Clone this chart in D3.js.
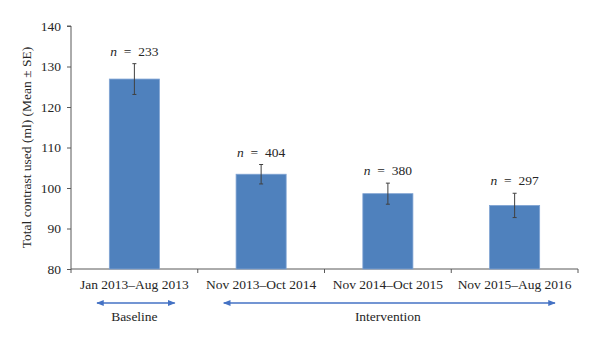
<!DOCTYPE html>
<html lang="en">
<head>
  <meta charset="UTF-8">
  <title>Total contrast used by period</title>
  <script src="https://d3js.org/d3.v7.min.js"></script>
  <style>
    body { margin: 0; background: #fff; }
    svg, svg text { font-family: "Liberation Serif", "Times New Roman", serif; fill: #262626; }
    .axis path, .axis line { stroke: #595959; }
    .axis text { font-size: 13.5px; fill: #262626; }
  </style>
</head>
<body>
  <svg width="600" height="343" font-family="Liberation Serif, serif"></svg>

  <script>
    const periods = ["Jan 2013\u2013Aug 2013", "Nov 2013\u2013Oct 2014", "Nov 2014\u2013Oct 2015", "Nov 2015\u2013Aug 2016"];
    const means = [126.9, 103.4, 98.6, 95.7];
    const stdErrors = [3.8, 2.4, 2.6, 3.0];
    const counts = [233, 404, 380, 297];
    const yTicks = [80, 90, 100, 110, 120, 130, 140];
    // phase brackets under the axis, by index of the first and last period
    const phases = [
      { name: "Baseline", from: 0, to: 0 },
      { name: "Intervention", from: 1, to: 3 }
    ];

    const FONT = "Liberation Serif, serif";
    const svg = d3.select("svg");
    const margin = { top: 26, right: 22, bottom: 74, left: 71 };
    const width = +svg.attr("width") - margin.left - margin.right;
    const height = +svg.attr("height") - margin.top - margin.bottom;

    const chart = svg.append("g")
      .attr("transform", `translate(${margin.left},${margin.top})`);

    const x = d3.scaleBand().domain(periods).range([0, width]).padding(0);
    const y = d3.scaleLinear().domain([80, 140]).range([height, 0]);
    const barW = x.bandwidth() * 0.395;

    // y axis
    chart.append("g").attr("class", "axis")
      .call(d3.axisLeft(y).tickValues(yTicks).tickSize(4).tickPadding(6))
      .attr("font-family", FONT).attr("font-size", 13.5)
      .call(g => g.select(".domain").attr("d", `M-4,0H0V${height}`));

    // x axis with ticks at the category boundaries
    const xAxis = chart.append("g").attr("class", "axis")
      .attr("transform", `translate(0,${height})`)
      .call(d3.axisBottom(x).tickSize(0).tickPadding(10))
      .attr("font-family", FONT).attr("font-size", 13.5);
    xAxis.select(".domain").attr("d", `M0,0H${width}`);
    xAxis.selectAll(".bound")
      .data(d3.range(periods.length + 1))
      .join("line")
      .attr("class", "bound")
      .attr("x1", i => i * x.step()).attr("x2", i => i * x.step())
      .attr("y1", 0).attr("y2", 4)
      .attr("stroke", "#595959");

    // bars
    chart.selectAll(".bar")
      .data(periods)
      .join("rect")
      .attr("class", "bar")
      .attr("x", d => x(d) + (x.bandwidth() - barW) / 2)
      .attr("y", (d, i) => y(means[i]))
      .attr("width", barW)
      .attr("height", (d, i) => height - y(means[i]))
      .attr("fill", "#4f81bd")
      .attr("stroke", "#7fa3d3")
      .attr("stroke-width", 0.8);

    // error bars (mean ± SE)
    const err = chart.selectAll(".err")
      .data(periods)
      .join("g")
      .attr("class", "err")
      .attr("stroke", "#404040")
      .attr("stroke-width", 1);
    err.append("line")
      .attr("x1", d => x(d) + x.bandwidth() / 2).attr("x2", d => x(d) + x.bandwidth() / 2)
      .attr("y1", (d, i) => y(means[i] + stdErrors[i]))
      .attr("y2", (d, i) => y(means[i] - stdErrors[i]));
    [1, -1].forEach(s => {
      err.append("line")
        .attr("x1", d => x(d) + x.bandwidth() / 2 - 2).attr("x2", d => x(d) + x.bandwidth() / 2 + 2)
        .attr("y1", (d, i) => y(means[i] + s * stdErrors[i]))
        .attr("y2", (d, i) => y(means[i] + s * stdErrors[i]));
    });

    // sample size labels
    const nLabel = chart.selectAll(".nlabel")
      .data(periods)
      .join("text")
      .attr("class", "nlabel")
      .attr("x", d => x(d) + x.bandwidth() / 2)
      .attr("y", (d, i) => y(means[i] + stdErrors[i]) - 8)
      .attr("text-anchor", "middle")
      .attr("font-family", FONT)
      .attr("font-size", 13.5);
    nLabel.append("tspan").attr("font-style", "italic").text("n");
    nLabel.append("tspan").text((d, i) => "\u2002=\u2002" + counts[i]);

    // phase arrows
    const defs = svg.append("defs");
    defs.append("marker")
      .attr("id", "head")
      .attr("viewBox", "0 0 10 10")
      .attr("refX", 9).attr("refY", 5)
      .attr("markerWidth", 5).attr("markerHeight", 5)
      .attr("orient", "auto-start-reverse")
      .append("path")
      .attr("d", "M0,1L10,5L0,9Z")
      .attr("fill", "#4472c4");

    const phaseG = chart.selectAll(".phase")
      .data(phases)
      .join("g")
      .attr("class", "phase");
    phaseG.append("line")
      .attr("x1", p => x(periods[p.from]) + 26)
      .attr("x2", p => x(periods[p.to]) + x.bandwidth() - 23)
      .attr("y1", height + 34).attr("y2", height + 34)
      .attr("stroke", "#4472c4")
      .attr("stroke-width", 1.5)
      .attr("marker-start", "url(#head)")
      .attr("marker-end", "url(#head)");
    phaseG.append("text")
      .attr("x", p => (x(periods[p.from]) + x(periods[p.to]) + x.bandwidth()) / 2)
      .attr("y", height + 52)
      .attr("text-anchor", "middle")
      .attr("font-family", FONT)
      .attr("font-size", 13.5)
      .text(p => p.name);

    // y axis title
    svg.append("text")
      .attr("transform", `translate(31,${margin.top + height / 2}) rotate(-90)`)
      .attr("text-anchor", "middle")
      .attr("font-family", FONT)
      .attr("font-size", 13.5)
      .text("Total contrast used (ml) (Mean \u00b1 SE)");
  </script>
</body>
</html>
